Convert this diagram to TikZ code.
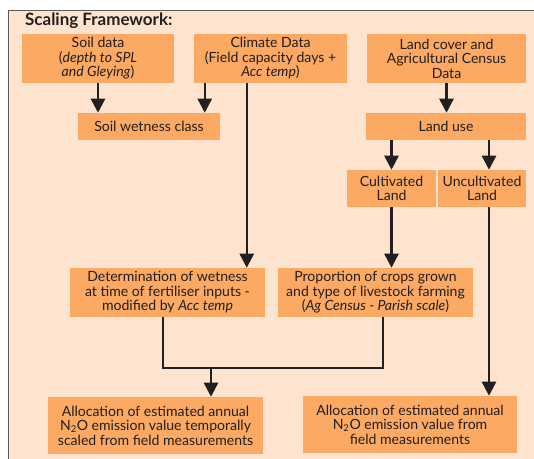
\documentclass[tikz,border=0pt]{standalone}
\usepackage{fontspec}
\setmainfont{Lato}
\usetikzlibrary{arrows.meta}
\definecolor{boxfill}{RGB}{251,169,99}
\definecolor{panel}{RGB}{254,228,206}
\definecolor{ink}{RGB}{35,31,32}

\begin{document}
\begin{tikzpicture}[x=0.03cm, y=-0.03cm,
  stage/.style={fill=boxfill, text=ink, align=center, inner sep=1pt,
    font=\fontsize{12}{12.4}\selectfont},
  flow/.style={draw=ink, line width=2.1pt, -{Triangle[width=12pt,length=12pt]}},
  link/.style={draw=ink, line width=2.1pt}]
  \useasboundingbox (0,0) rectangle (534,459);

  % panel
  \fill[panel] (8,10) rectangle (540,465);
  \draw[gray!70!black, line width=0.8pt] (540,10)--(8,10)--(8,465);
  \node [anchor=west, text=ink, font=\fontsize{14.5}{14.5}\selectfont\bfseries] (title) at (21,20.5){Scaling Framework:};

  % input data
  \node [stage, minimum width=4.56cm, minimum height=1.47cm] (soil) at (98,58.5)
    {Soil data\\(\textit{depth to SPL}\\\textit{and Gleying})};
  \node [stage, minimum width=4.59cm, minimum height=1.47cm] (climate) at (270.5,58.5)
    {Climate Data\\(Field capacity days +\\\textit{Acc temp})};
  \node [stage, minimum width=4.77cm, minimum height=1.47cm] (landcover) at (446.5,58.5)
    {Land cover and\\Agricultural Census\\Data};

  % second row
  \node [stage, minimum width=4.26cm, minimum height=0.81cm] (wetness) at (149,126.5){Soil wetness class};
  \node [stage, minimum width=4.8cm, minimum height=0.81cm] (landuse) at (446,126.5){Land use};

  % land classes
  \node [stage, minimum width=2.67cm, minimum height=1.11cm] (cult) at (391.5,188.5){Cultivated\\Land};
  \node [stage, minimum width=2.64cm, minimum height=1.11cm] (uncult) at (482,188.5){Uncultivated\\Land};

  % intermediate
  \node [stage, minimum width=5.85cm, minimum height=1.47cm] (determ) at (167.5,292.5)
    {Determination of wetness\\at time of fertiliser inputs -\\modified by \textit{Acc temp}};
  \node [stage, minimum width=5.85cm, minimum height=1.47cm] (prop) at (375.5,292.5)
    {Proportion of crops grown\\and type of livestock farming\\(\textit{Ag Census - Parish scale})};

  % outputs
  \node [stage, minimum width=6.45cm, minimum height=1.71cm] (allocL) at (155.5,425.5)
    {Allocation of estimated annual\\N\textsubscript{2}O emission value temporally\\scaled from field measurements};
  \node [stage, minimum width=6.42cm, minimum height=1.71cm] (allocR) at (410,424.5)
    {Allocation of estimated annual\\N\textsubscript{2}O emission value from\\field measurements};

  % arrows
  \draw[flow] (soil.south) -- (soil.south |- wetness.north);
  \draw[flow] ([xshift=0.33cm]climate.south west) -- ([xshift=0.33cm]climate.south west |- wetness.north);
  \draw[flow] ([xshift=1.59cm]climate.south west) -- ([xshift=1.59cm]climate.south west |- determ.north);
  \draw[flow] (landcover.south) -- (landcover.south |- landuse.north);
  \draw[flow] (cult.north |- landuse.south) -- (cult.north);
  \draw[flow] ([xshift=0.21cm]uncult.north |- landuse.south) -- ([xshift=0.21cm]uncult.north);
  \draw[flow] (cult.south) -- (cult.south |- prop.north);
  \draw[flow] ([xshift=0.21cm]uncult.south) -- ([xshift=0.21cm]uncult.south |- allocR.north);

  % merge
  \coordinate (merge) at (211,368);
  \draw[link] ([xshift=-0.13cm]determ.south) |- (merge) -| ([xshift=0.22cm]prop.south);
  \draw[flow] (merge) -- (merge |- allocL.north);
\end{tikzpicture}
\end{document}
